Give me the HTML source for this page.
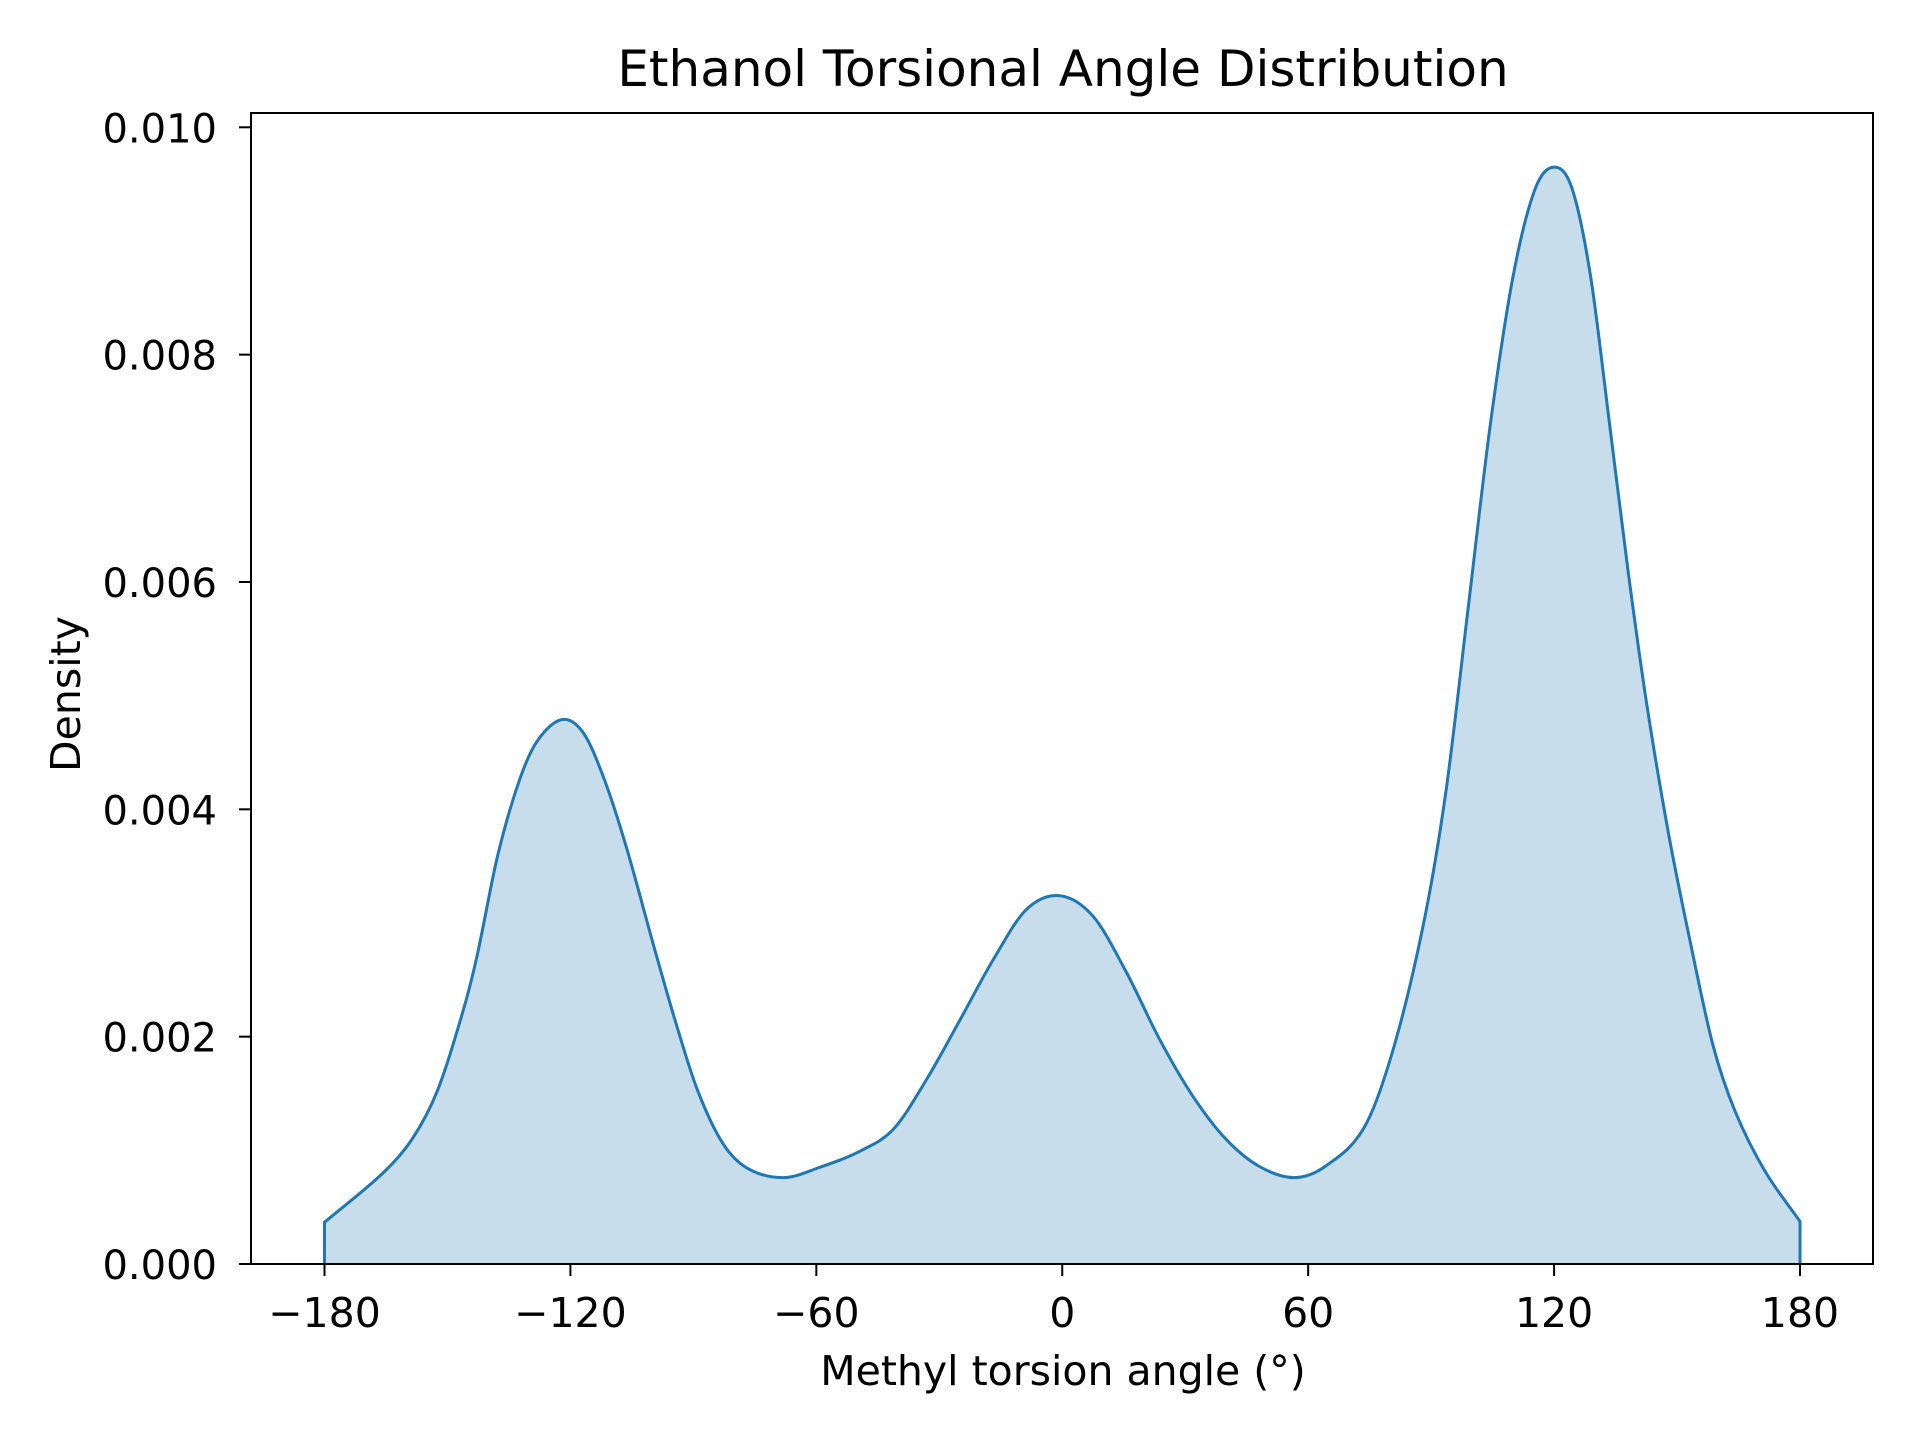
<!DOCTYPE html>
<html><head><meta charset="utf-8"><style>
html,body{margin:0;padding:0;background:#fff;}
svg{display:block;font-family:"DejaVu Sans","Liberation Sans",sans-serif;}
</style></head><body>
<svg id="chart" width="1920" height="1440" viewBox="0 0 1920 1440">
<text x="1063" y="86" font-size="50" text-anchor="middle">Ethanol Torsional Angle Distribution</text>
<g id="plot"></g>
<text x="1063" y="1385" font-size="41" text-anchor="middle">Methyl torsion angle (°)</text>
<text transform="translate(80,694) rotate(-90)" font-size="41" text-anchor="middle">Density</text>
</svg>
<script>
const angles=[-180,-165.6,-158.6,-152.5,-146.4,-142.9,-137.7,-132.5,-128.1,-122,-116.8,-111.6,-106.3,-99.3,-94.1,-88.9,-82.8,-76.7,-68,-59.2,-49.1,-41.1,-33,-24.9,-16.8,-8.7,-0.6,7.5,15.6,23.7,31.8,39.9,48,56.5,64.2,73.8,81,88.3,93.7,99.1,104.5,110,115.4,120.1,124.4,128.9,133.5,138,142.5,147.9,153.3,158.8,164.2,171.4,180];
const density=[0.000367,0.000805,0.0011,0.00152,0.0022,0.00269,0.0036,0.00425,0.0046,0.00479,0.00467,0.00425,0.00366,0.00275,0.0021,0.00152,0.00106,0.00084,0.00076,0.00085,0.000997,0.00119,0.00163,0.00215,0.00268,0.00312,0.00324,0.00306,0.00257,0.00198,0.00148,0.0011,0.00086,0.00076,0.00086,0.00121,0.00192,0.00302,0.00418,0.00579,0.0074,0.00869,0.00946,0.00965,0.00946,0.00869,0.0074,0.00611,0.00495,0.00379,0.00282,0.00192,0.00134,0.00082,0.000374];
const xTicks=[-180,-120,-60,0,60,120,180];
const yTicks=[0,0.002,0.004,0.006,0.008,0.010];
const yTickLabels=["0.000","0.002","0.004","0.006","0.008","0.010"];
const L=251,R=1873,T=113,B=1264;
const X=a=>324.5+(a+180)*(1800-324.5)/360;
const Y=d=>B-d*113.67/0.001;
const NS="http://www.w3.org/2000/svg";
const g=document.getElementById('plot');
function mk(t,at){const e=document.createElementNS(NS,t);for(const k in at)e.setAttribute(k,at[k]);g.appendChild(e);return e;}
const P=angles.map((a,i)=>[X(a),Y(density[i])]);
const n=P.length;
const m=P.map((p,i)=>{
 const a=P[Math.max(0,i-1)],b=P[Math.min(n-1,i+1)];
 return (b[1]-a[1])/(b[0]-a[0]);
});
let d="M"+P[0][0]+","+P[0][1];
for(let i=0;i<n-1;i++){
 const p1=P[i],p2=P[i+1],h=(p2[0]-p1[0])/3;
 d+=" C"+(p1[0]+h)+","+(p1[1]+m[i]*h)+" "+(p2[0]-h)+","+(p2[1]-m[i+1]*h)+" "+p2[0]+","+p2[1];
}
const first=P[0],last=P[n-1];
const fill=mk('path',{d:"M"+first[0]+","+B+" L"+d.slice(1)+" L"+last[0]+","+B+" Z",fill:"#1f77b4","fill-opacity":"0.25",stroke:"none"});


const line=mk('path',{d:"M"+first[0]+","+B+" L"+d.slice(1)+" L"+last[0]+","+B,fill:"none",stroke:"#1f77b4","stroke-width":"3"});


const frame=mk('rect',{x:L,y:T,width:R-L,height:B-T,fill:"none",stroke:"#000","stroke-width":"2"});


xTicks.forEach(v=>{
 const x=X(v);
 const t=mk('line',{x1:x,x2:x,y1:B,y2:B+12,stroke:"#000","stroke-width":"2"});
 
 
 const l=mk('text',{x:x,y:B+63,"font-size":"41","text-anchor":"middle"});
 l.textContent=(v<0?"\u2212"+(-v):String(v));
 
 
});
yTicks.forEach((v,i)=>{
 const y=Y(v);
 const t=mk('line',{x1:L-12,x2:L,y1:y,y2:y,stroke:"#000","stroke-width":"2"});
 
 
 const l=mk('text',{x:L-34,y:y+15,"font-size":"40","text-anchor":"end"});
 l.textContent=yTickLabels[i];
 
 
});
</script>
</body></html>
